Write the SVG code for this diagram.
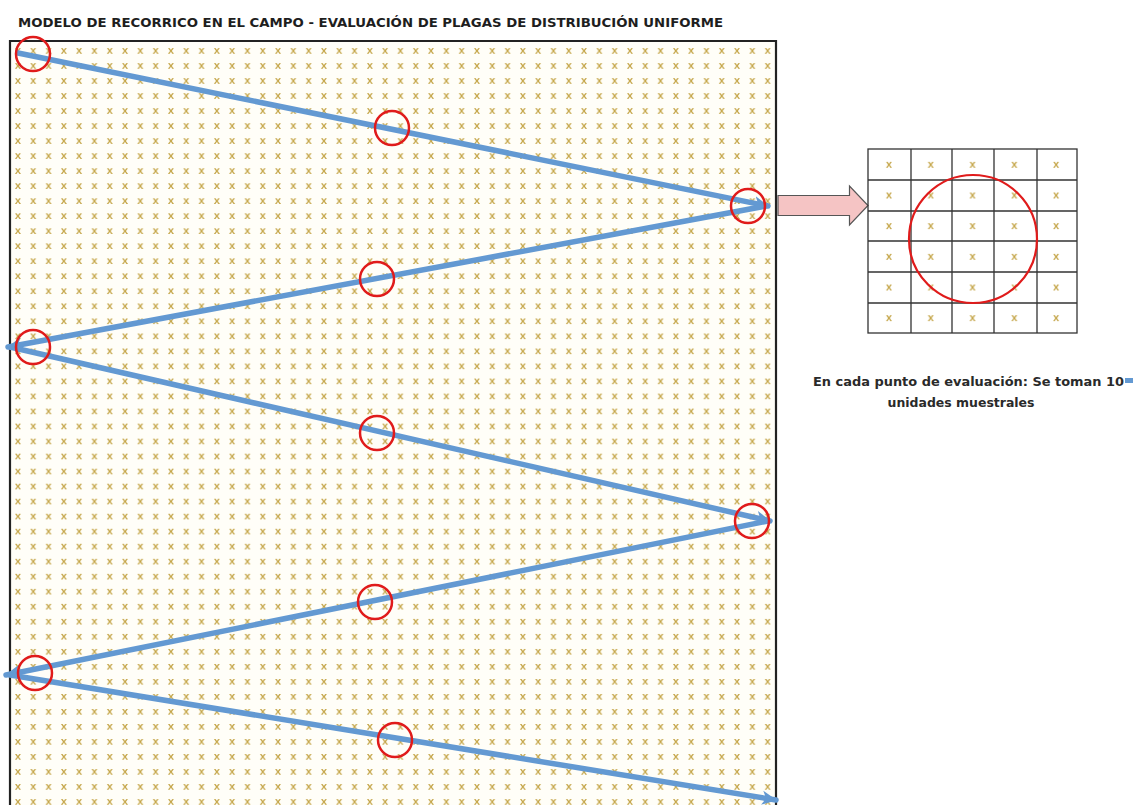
<svg xmlns="http://www.w3.org/2000/svg" width="1145" height="805" viewBox="0 0 1145 805">
<style>
.title{font-family:"DejaVu Sans","Liberation Sans",sans-serif;font-weight:bold;font-size:13px;fill:#1e1e1e}
.note{font-family:"DejaVu Sans","Liberation Sans",sans-serif;font-weight:bold;font-size:13px;fill:#2a2a2a}
.xm{font-family:"Liberation Sans",sans-serif;font-weight:bold;font-size:11px;fill:#c4a548;text-anchor:middle}
.route{fill:none;stroke:#6399d2;stroke-width:5.5;stroke-linecap:round;marker-end:url(#ah)}
.pt{fill:none;stroke:#e01b1b;stroke-width:2.5}
.cell{fill:none;stroke:#333;stroke-width:1.3}
</style>
<defs>
<pattern id="xp" patternUnits="userSpaceOnUse" x="10.35" y="42.5" width="15.3" height="15.02">
<text class="xm" x="7.65" y="11.3">x</text>
</pattern>
<pattern id="xs" patternUnits="userSpaceOnUse" x="868" y="149" width="41.8" height="30.67">
<text class="xm" x="20.9" y="19">x</text>
</pattern>
<marker id="ah" markerUnits="userSpaceOnUse" markerWidth="22" markerHeight="20" refX="14" refY="8" orient="auto">
<path d="M0,1 L15,8 L0,15 L4,8 Z" fill="#6399d2"/>
</marker>
</defs>
<rect width="1145" height="805" fill="#ffffff"/>
<text class="title" x="18" y="27" textLength="705" lengthAdjust="spacingAndGlyphs">MODELO DE RECORRICO EN EL CAMPO  - EVALUACIÓN DE PLAGAS DE DISTRIBUCIÓN UNIFORME</text>
<g id="field">
<rect x="10" y="41" width="766" height="770" fill="#fffef8"/>
<rect x="10" y="41" width="766" height="770" fill="url(#xp)"/>
<path d="M10,812 V41 H776 V812" fill="none" stroke="#222" stroke-width="2.2"/>
</g>
<g id="connectors">
<line class="route" x1="18" y1="53" x2="768" y2="206"/>
<line class="route" x1="766" y1="206" x2="8" y2="347"/>
<line class="route" x1="10" y1="347" x2="770" y2="521"/>
<line class="route" x1="768" y1="521" x2="6" y2="675"/>
<line class="route" x1="10" y1="675" x2="776" y2="800"/>
</g>
<g id="points">
<circle class="pt" cx="33" cy="54" r="17"/>
<circle class="pt" cx="392" cy="128" r="17"/>
<circle class="pt" cx="748" cy="206" r="17"/>
<circle class="pt" cx="377" cy="279" r="17"/>
<circle class="pt" cx="33" cy="347" r="17"/>
<circle class="pt" cx="377" cy="433" r="17"/>
<circle class="pt" cx="752" cy="521" r="17"/>
<circle class="pt" cx="375" cy="602" r="17"/>
<circle class="pt" cx="35" cy="673" r="17"/>
<circle class="pt" cx="395" cy="740" r="17"/>
</g>
<g id="zoom-arrow">
<path d="M778,195.5 H849.5 V186 L868,205.5 L849.5,225 V215.5 H778 Z" fill="#f5c4c4" stroke="#555" stroke-width="1.2"/>
</g>
<g id="sample-grid">
<rect x="868" y="149" width="209" height="184" fill="url(#xs)"/>
<rect class="cell" x="868" y="149" width="209" height="184"/>
<path class="cell" d="M911,149 V333 M952,149 V333 M994,149 V333 M1037,149 V333 M868,180 H1077 M868,211 H1077 M868,241 H1077 M868,272 H1077 M868,303 H1077"/>
<circle cx="973" cy="239" r="64" fill="none" stroke="#e01b1b" stroke-width="2.2"/>
</g>
<g id="note">
<text class="note" x="813" y="386" textLength="311" lengthAdjust="spacingAndGlyphs">En cada punto de evaluación: Se toman 10</text>
<rect x="1125" y="378" width="8" height="5" fill="#6399d2"/>
<text class="note" x="961" y="407" text-anchor="middle" textLength="147" lengthAdjust="spacingAndGlyphs">unidades muestrales</text>
</g>
</svg>
